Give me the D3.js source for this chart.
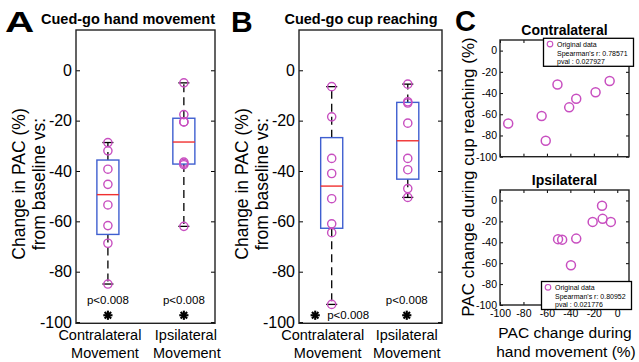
<!DOCTYPE html>
<html>
<head>
<meta charset="utf-8">
<script src="https://cdn.jsdelivr.net/npm/d3@7"></script>
<style>
  body { margin: 0; background: #fff; }
  svg { display: block; }
</style>
</head>
<body>
<svg id="chart" width="639" height="362"></svg>
<script>
// values, % change in PAC from baseline
const groups = ["Contralateral", "Ipsilateral"];
const handContra = [-68.7, -61.7, -84.9, -32, -53.5, -45.3, -39.3, -28.7];
const handIpsi = [-37, -37.5, -36.5, -62, -20.5, -5, -17.6, -20.5];
const cupContra = [-93, -64.5, -61, -51, -41, -35, -18.5, -6.5];
const cupIpsi = [-50.5, -47, -35, -39.5, -21, -13, -12.5, -5.5];
const pText = "p<0.008";
const boxTicks = [-100, -80, -60, -40, -20, 0];
const scatTicks = [-100, -80, -60, -40, -20, 0];
const spearR = ["0.78571", "0.80952"];
const pvals = ["0.027927", "0.021776"];

const FONT = '"Liberation Sans", Arial, Helvetica, sans-serif';
const MAG = "#c84fc0", BLUE = "#3f5fd0", RED = "#f03030";

const svg = d3.select("#chart").attr("font-family", FONT);

// matlab style prctile
function prctile(s, p) {
    let n = s.length;
    let pos = n * p / 100 + 0.5;
    if (pos < 1) return s[0];
    if (pos >= n) return s[n - 1];
    let i = Math.floor(pos), f = pos - i;
    return s[i - 1] + f * (s[i] - s[i - 1]);
}

function boxStats(vals) {
    let s = vals.slice().sort(d3.ascending);
    let q1 = prctile(s, 25), med = prctile(s, 50), q3 = prctile(s, 75);
    let iqr = q3 - q1;
    let lo = d3.min(s.filter(v => v >= q1 - 1.5 * iqr));
    let hi = d3.max(s.filter(v => v <= q3 + 1.5 * iqr));
    return {q1, med, q3, lo, hi};
}

function star(g, cx, cy) {
    let r = 4.6;
    [0, 45, 90, 135].forEach(a => {
        let t = a * Math.PI / 180;
        g.append("line")
            .attr("x1", cx - r * Math.cos(t)).attr("y1", cy - r * Math.sin(t))
            .attr("x2", cx + r * Math.cos(t)).attr("y2", cy + r * Math.sin(t))
            .attr("stroke", "#000").attr("stroke-width", 2.1);
    });
}

function styleAxis(a, fs) {
    a.attr("font-family", FONT).attr("font-size", fs);
    a.select(".domain").remove();
    a.selectAll("line").attr("stroke-width", 1);
}

const yBox = d3.scaleLinear().domain([-100.5, 16]).range([323.3, 30]);

function drawBoxPanel(p) {
    const g = svg.append("g");
    const x = d3.scaleLinear().domain(p.xdom).range([p.left, p.right]);
    const bw = x(1.29) - x(1);

    // y axis, ticks pointing in on both sides
    g.append("g").attr("transform", `translate(${p.left},0)`)
        .call(d3.axisLeft(yBox).tickValues(boxTicks).tickFormat(d => String(d))
            .tickSizeInner(-4).tickSizeOuter(0).tickPadding(4))
        .call(a => styleAxis(a, 16));
    g.append("g").attr("transform", `translate(${p.right},0)`)
        .call(d3.axisRight(yBox).tickValues(boxTicks).tickFormat("")
            .tickSizeInner(-4).tickSizeOuter(0))
        .call(a => styleAxis(a, 16));

    p.series.forEach((vals, i) => {
        let cx = x(i + 1);
        let st = boxStats(vals);
        // whiskers
        g.append("line").attr("x1", cx).attr("x2", cx)
            .attr("y1", yBox(st.q3)).attr("y2", yBox(st.hi))
            .attr("stroke", "#000").attr("stroke-width", 1.3).attr("stroke-dasharray", "8,5");
        g.append("line").attr("x1", cx).attr("x2", cx)
            .attr("y1", yBox(st.q1)).attr("y2", yBox(st.lo))
            .attr("stroke", "#000").attr("stroke-width", 1.3).attr("stroke-dasharray", "8,5");
        [st.hi, st.lo].forEach(v => {
            g.append("line").attr("x1", cx - bw / 4).attr("x2", cx + bw / 4)
                .attr("y1", yBox(v)).attr("y2", yBox(v))
                .attr("stroke", "#000").attr("stroke-width", 1.3);
        });
        g.append("rect")
            .attr("x", cx - bw / 2).attr("y", yBox(st.q3))
            .attr("width", bw).attr("height", yBox(st.q1) - yBox(st.q3))
            .attr("fill", "none").attr("stroke", BLUE).attr("stroke-width", 1.4);
        g.append("line").attr("x1", cx - bw / 2).attr("x2", cx + bw / 2)
            .attr("y1", yBox(st.med)).attr("y2", yBox(st.med))
            .attr("stroke", RED).attr("stroke-width", 1.4);
        g.selectAll(null).data(vals).enter().append("circle")
            .attr("cx", cx).attr("cy", d => yBox(d)).attr("r", 4.1)
            .attr("fill", "none").attr("stroke", MAG).attr("stroke-width", 1.4);

        // significance star and p text
        let sx = cx + p.starDx[i];
        star(g, sx, yBox(-97.3));
        if (p.pRight[i]) {
            g.append("text").attr("x", sx + 12).attr("y", yBox(-98.6))
                .attr("font-size", 11.5).text(pText);
        } else {
            g.append("text").attr("x", sx).attr("y", yBox(-92.7))
                .attr("text-anchor", "middle").attr("font-size", 11.5).text(pText);
        }

        let t = g.append("text").attr("text-anchor", "middle").attr("font-size", 14.5);
        t.append("tspan").attr("x", cx + p.labDx[i][0]).attr("y", 340).text(groups[i]);
        t.append("tspan").attr("x", cx + p.labDx[i][1]).attr("y", 358).text("Movement");
    });

    g.append("rect").attr("x", p.left).attr("y", 30)
        .attr("width", p.right - p.left).attr("height", yBox(-100.5) - 30)
        .attr("fill", "none").attr("stroke", "#222").attr("stroke-width", 1.4);

    let yl = g.append("text").attr("text-anchor", "middle").attr("font-size", 17.5)
        .attr("transform", `translate(${p.ylabX},184) rotate(-90)`);
    yl.append("tspan").attr("x", 0).attr("dy", 0).text("Change in PAC (%)");
    yl.append("tspan").attr("x", 0).attr("dy", 19.5).text("from baseline vs:");

    g.append("text").attr("x", p.titleX).attr("y", 24).attr("text-anchor", "middle")
        .attr("font-size", 14.5).attr("font-weight", "bold").text(p.title);
    g.append("text").attr("transform", `translate(${p.letterX},32) scale(${p.letterSx},1)`)
        .attr("font-size", 30).attr("font-weight", "bold").text(p.letter);
}

drawBoxPanel({
    left: 76, right: 215, xdom: [0.58, 2.41],
    series: [handContra, handIpsi], pRight: [false, false], starDx: [0, 0],
    labDx: [[-8, -3], [2, 3]],
    title: "Cued-go hand movement", titleX: 128, ylabX: 25,
    letter: "A", letterX: 5, letterSx: 1.35
});
drawBoxPanel({
    left: 299, right: 442, xdom: [0.57, 2.45],
    series: [cupContra, cupIpsi], pRight: [true, false], starDx: [-16.5, -1],
    labDx: [[-9, -4], [-1, -1]],
    title: "Cued-go cup reaching", titleX: 361, ylabX: 248,
    letter: "B", letterX: 231, letterSx: 1
});

// panel C scatter plots
const xS = d3.scaleLinear().domain([-100, 10]).range([500, 629]);

function drawScatter(p) {
    const g = svg.append("g");
    const y = d3.scaleLinear().domain([-100, 10]).range([p.bottom, p.top]);

    g.append("g").attr("transform", `translate(500,0)`)
        .call(d3.axisLeft(y).tickValues(scatTicks).tickFormat(d => String(d))
            .tickSizeInner(-3).tickSizeOuter(0).tickPadding(3))
        .call(a => styleAxis(a, 10.5));
    g.append("g").attr("transform", `translate(629,0)`)
        .call(d3.axisRight(y).tickValues(scatTicks).tickFormat("")
            .tickSizeInner(-3).tickSizeOuter(0))
        .call(a => styleAxis(a, 10.5));
    g.append("g").attr("transform", `translate(0,${p.bottom})`)
        .call(d3.axisBottom(xS).tickValues(scatTicks)
            .tickFormat(p.xLabels ? (d => String(d)) : "")
            .tickSizeInner(-3).tickSizeOuter(0).tickPadding(5))
        .call(a => styleAxis(a, 10.5));
    g.append("g").attr("transform", `translate(0,${p.top})`)
        .call(d3.axisTop(xS).tickValues(scatTicks).tickFormat("")
            .tickSizeInner(-3).tickSizeOuter(0))
        .call(a => styleAxis(a, 10.5));

    g.selectAll(null).data(d3.zip(p.xs, p.ys)).enter().append("circle")
        .attr("cx", d => xS(d[0])).attr("cy", d => y(d[1])).attr("r", 4.5)
        .attr("fill", "none").attr("stroke", MAG).attr("stroke-width", 1.5);

    g.append("rect").attr("x", 500).attr("y", p.top)
        .attr("width", 129).attr("height", p.bottom - p.top)
        .attr("fill", "none").attr("stroke", "#222").attr("stroke-width", 1.4);

    g.append("text").attr("x", 564.5).attr("y", p.top - 5).attr("text-anchor", "middle")
        .attr("font-size", 14).attr("font-weight", "bold").text(p.title);

    // legend
    const lg = g.append("g").attr("transform", `translate(${p.legX},${p.legY})`);
    lg.append("rect").attr("width", 90).attr("height", 28)
        .attr("fill", "#fff").attr("stroke", "#000").attr("stroke-width", 1.3);
    lg.append("circle").attr("cx", 6.5).attr("cy", 5.8).attr("r", 2.8)
        .attr("fill", "none").attr("stroke", MAG).attr("stroke-width", 1.1);
    const lt = lg.append("text").attr("font-size", 7);
    lt.append("tspan").attr("x", 13.5).attr("y", 8.3).text("Original data");
    lt.append("tspan").attr("x", 13.5).attr("y", 17.3).text("Spearman's r: " + p.r);
    lt.append("tspan").attr("x", 13.5).attr("y", 25.8).text("pval : " + p.pv);
}

drawScatter({
    top: 40, bottom: 156.7, xs: cupContra, ys: handContra, xLabels: false,
    title: "Contralateral", legX: 543.5, legY: 38.3, r: spearR[0], pv: pvals[0]
});
drawScatter({
    top: 190, bottom: 305, xs: cupIpsi, ys: handIpsi, xLabels: true,
    title: "Ipsilateral", legX: 541.5, legY: 281.5, r: spearR[1], pv: pvals[1]
});

svg.append("text").attr("transform", "translate(474,177) rotate(-90)")
    .attr("text-anchor", "middle").attr("font-size", 17)
    .text("PAC change during cup reaching (%)");
const xl = svg.append("text").attr("text-anchor", "middle").attr("font-size", 15.5);
xl.append("tspan").attr("x", 565).attr("y", 338).text("PAC change during");
xl.append("tspan").attr("x", 566).attr("y", 357).text("hand movement (%)");

svg.append("text").attr("x", 455).attr("y", 31)
    .attr("font-size", 29).attr("font-weight", "bold").text("C");
</script>
</body>
</html>
